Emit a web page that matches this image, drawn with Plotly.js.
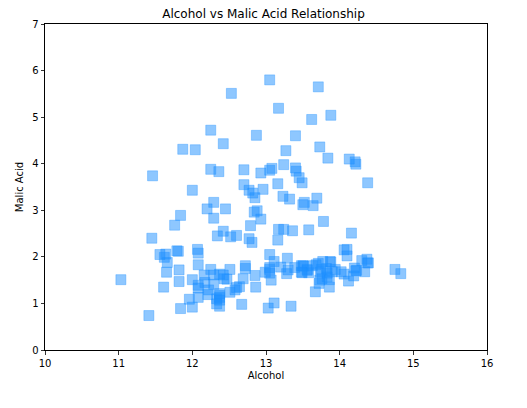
<!DOCTYPE html>
<html><head><meta charset="utf-8">
<script src="https://cdn.plot.ly/plotly-3.0.1.min.js"></script>
<style>html,body{margin:0;padding:0;background:#fff}#chart{width:527px;height:408px}</style>
</head><body><div id="chart"></div>
<script>
const alcohol = [14.23,13.2,13.16,14.37,13.24,14.2,14.39,14.06,14.83,13.86,14.1,14.12,13.75,14.75,14.38,13.63,14.3,13.83,14.19,13.64,14.06,12.93,13.71,12.85,13.5,13.05,13.39,13.3,13.87,14.02,13.73,13.58,13.68,13.76,13.51,13.48,13.28,13.05,13.07,14.22,13.56,13.41,13.88,13.24,13.05,14.21,14.38,13.9,14.1,13.94,13.05,13.83,13.82,13.77,13.74,13.56,14.22,13.29,13.72,
12.37,12.33,12.64,13.67,12.37,12.17,12.37,13.11,12.37,13.34,12.21,12.29,13.86,13.49,12.99,11.96,11.66,13.03,11.84,12.33,12.7,12.0,12.72,12.08,13.05,11.84,12.67,12.16,11.65,11.64,12.08,12.08,12.0,12.69,12.29,11.62,12.47,11.81,12.29,12.37,12.29,12.08,12.6,12.34,11.82,12.51,12.42,12.25,12.72,12.22,11.61,11.46,12.52,11.76,11.41,12.08,11.03,11.82,12.42,12.77,12.0,11.45,11.56,12.42,13.05,11.87,12.07,12.43,11.79,12.37,12.04,
12.86,12.88,12.81,12.7,12.51,12.6,12.25,12.53,13.49,12.84,12.93,13.36,13.52,13.62,12.25,13.16,13.88,12.87,13.32,13.08,13.5,12.79,13.11,13.23,12.58,13.17,13.84,12.45,14.34,13.48,12.36,13.69,12.85,12.96,13.78,13.73,13.45,12.82,13.58,13.4,12.2,12.77,14.16,13.71,13.4,13.27,13.17,14.13];
const malicAcid = [1.71,1.78,2.36,1.95,2.59,1.76,1.87,2.15,1.64,1.35,2.16,1.48,1.73,1.73,1.87,1.81,1.92,1.57,1.59,3.1,1.63,3.8,1.86,1.6,1.81,2.05,1.77,1.72,1.9,1.68,1.5,1.66,1.83,1.53,1.8,1.81,1.64,1.65,1.5,3.99,1.71,3.84,1.89,3.98,1.77,4.04,3.59,1.68,2.02,1.73,1.73,1.65,1.75,1.9,1.67,1.73,1.7,1.97,1.43,
0.94,1.1,1.36,1.25,1.13,1.45,1.21,1.01,1.17,0.94,1.19,1.61,1.51,1.66,1.67,1.09,1.88,0.9,2.89,0.99,3.87,0.92,1.81,1.13,3.86,0.89,0.98,1.61,1.67,2.06,1.33,1.83,1.51,1.53,2.83,1.99,1.52,2.12,1.41,1.07,3.17,2.08,1.34,2.45,1.72,1.73,2.55,1.73,1.75,1.29,1.35,3.74,2.43,2.68,0.74,1.39,1.51,1.47,1.61,3.43,3.43,2.4,2.05,4.43,5.8,4.31,2.16,1.53,2.13,1.63,4.3,
1.35,2.99,2.31,3.55,1.24,2.46,4.72,5.51,3.59,2.96,2.81,2.56,3.17,4.95,3.88,3.57,5.04,4.61,3.24,3.9,3.12,2.67,1.9,3.3,1.29,5.19,4.12,3.03,1.68,1.67,3.83,3.26,3.27,3.45,2.76,4.36,3.7,3.37,2.58,4.6,3.03,2.39,2.51,5.65,3.91,4.28,2.59,4.1];
const xTicks = [10,11,12,13,14,15,16];
const yTicks = [0,1,2,3,4,5,6,7];

const font = {family:'DejaVu Sans, sans-serif', size:10, color:'#000'};
const axisCommon = {
  showgrid:false, zeroline:false, showline:true, mirror:true,
  linecolor:'#000', linewidth:1, ticks:'outside', ticklen:3.5, tickwidth:0.8, tickcolor:'#000',
  tickfont:{family:'DejaVu Sans, sans-serif', size:10, color:'#000'}, tickmode:'array'
};
Plotly.newPlot('chart', [{
  x: alcohol, y: malicAcid, type:'scatter', mode:'markers',
  marker:{symbol:'square', size:10, color:'rgba(30,144,255,0.5)', line:{color:'rgba(30,144,255,0.35)', width:1}},
  hoverinfo:'skip'
}], {
  width:527, height:408,
  margin:{l:45, r:40, t:24, b:58},
  paper_bgcolor:'#fff', plot_bgcolor:'#fff',
  font: font,
  showlegend:false,
  title:{text:'Alcohol vs Malic Acid Relationship', font:{family:'DejaVu Sans, sans-serif', size:12, color:'#000'}, x:0.5, xanchor:'center', y:0.966, yanchor:'middle'},
  xaxis:Object.assign({}, axisCommon, {range:[10,16], tickvals:xTicks, ticktext:xTicks.map(String),
    title:{text:'Alcohol', font:{family:'DejaVu Sans, sans-serif', size:10, color:'#000'}, standoff:4}}),
  yaxis:Object.assign({}, axisCommon, {range:[0,7], tickvals:yTicks, ticktext:yTicks.map(String),
    title:{text:'Malic Acid', font:{family:'DejaVu Sans, sans-serif', size:10, color:'#000'}, standoff:6}})
}, {staticPlot:true, displayModeBar:false});
</script></body></html>
